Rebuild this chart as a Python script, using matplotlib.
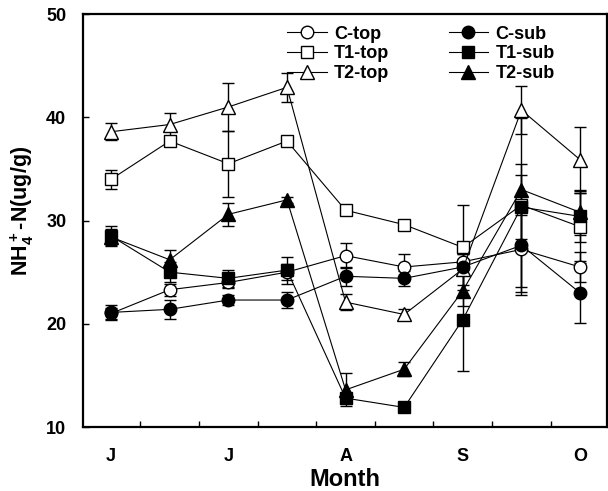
import matplotlib
matplotlib.use("Agg")
import matplotlib.pyplot as plt
import numpy as np

plt.rcParams['font.family'] = ['Liberation Sans', 'DejaVu Sans']
plt.rcParams['font.weight'] = 'bold'
plt.rcParams['mathtext.fontset'] = 'custom'
plt.rcParams['mathtext.rm'] = 'Liberation Sans:bold'
plt.rcParams['mathtext.default'] = 'rm'

months = ["J", "J", "A", "S", "O"]
x = np.arange(9)

c_top = [21.0, 23.3, 24.0, 25.0, 26.6, 25.5, 26.0, 27.2, 25.5]
c_top_err = [0.5, 0.6, 0.5, 0.8, 1.2, 1.3, 0.8, 4.4, 1.5]
t1_top = [34.0, 37.7, 35.5, 37.7, 31.0, 29.6, 27.4, 31.5, 29.4]
t1_top_err = [0.9, 0.5, 3.2, 0.4, 0.4, 0.4, 4.1, 8.4, 3.3]
t2_top = [38.6, 39.3, 41.0, 42.9, 22.1, 20.9, 25.3, 40.7, 35.9]
t2_top_err = [0.8, 1.1, 2.3, 1.4, 0.8, 0.5, 1.5, 2.3, 3.2]
c_sub = [21.1, 21.4, 22.3, 22.3, 24.6, 24.4, 25.5, 27.6, 23.0]
c_sub_err = [0.7, 0.9, 0.5, 0.8, 0.9, 0.7, 0.8, 4.0, 2.9]
t1_sub = [28.5, 25.0, 24.4, 25.2, 12.8, 11.9, 20.4, 31.3, 30.4]
t1_sub_err = [1.0, 1.0, 0.8, 1.3, 0.5, 0.3, 5.0, 3.1, 2.5]
t2_sub = [28.4, 26.2, 30.6, 32.0, 13.6, 15.6, 23.2, 33.0, 30.8]
t2_sub_err = [0.8, 0.9, 1.1, 0.3, 1.6, 0.7, 1.5, 2.5, 2.2]

series = [
    ("C-top", c_top, c_top_err, 'o', 'white'),
    ("T1-top", t1_top, t1_top_err, 's', 'white'),
    ("T2-top", t2_top, t2_top_err, '^', 'white'),
    ("C-sub", c_sub, c_sub_err, 'o', 'black'),
    ("T1-sub", t1_sub, t1_sub_err, 's', 'black'),
    ("T2-sub", t2_sub, t2_sub_err, '^', 'black'),
]

fig = plt.figure(figsize=(6.08, 4.91), dpi=100)
ax = fig.add_axes([0.1365, 0.1303, 0.8618, 0.8411])

handles = []
for name, vals, err, mk, fc in series:
    ax.errorbar(x, vals, yerr=err, fmt='none', ecolor='black', elinewidth=1,
                capsize=4, capthick=1, zorder=1)
    ms = 9.5 if mk == '^' else 9
    h, = ax.plot(x, vals, color='black', lw=0.8, marker=mk, ms=ms,
                 mfc=fc, mec='black', mew=1, label=name, zorder=3)
    handles.append(h)

ax.set_xlim(-0.48, 8.46)
ax.set_ylim(10, 50)
ax.set_yticks([10, 20, 30, 40, 50])
ax.set_xticks(np.arange(0.5, 8, 1))
ax.set_xticklabels([])
ax.set_xticks([0, 2, 4, 6, 8], minor=True)
ax.set_xticklabels(months, minor=True)
ax.tick_params(axis='x', which='major', direction='in', length=4, width=1)
ax.tick_params(axis='x', which='minor', length=0, pad=15, labelsize=13)
ax.tick_params(axis='y', direction='in', length=4, width=1, pad=12, labelsize=13)

for sp in ax.spines.values():
    sp.set_linewidth(1.6)

ax.set_xlabel("Month", fontsize=17, fontweight='bold', labelpad=2)
ax.set_ylabel(r"NH$_4^+$-N(ug/g)", fontsize=15.5, fontweight='bold')
ax.yaxis.set_label_coords(-0.09, 0.523)

ax.legend(handles=handles, ncol=2, loc='upper left', bbox_to_anchor=(0.389, 0.972),
          frameon=False, fontsize=13, handlelength=2.2, handletextpad=0.4,
          columnspacing=3.3, labelspacing=0.15, borderpad=0, borderaxespad=0)

fig.savefig("out.png", dpi=100)
